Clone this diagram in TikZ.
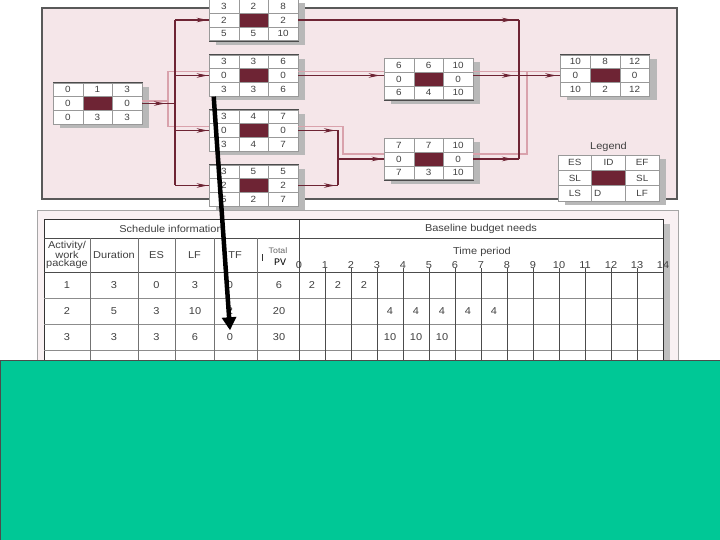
\documentclass[tikz,border=0pt]{standalone}
\usepackage{fontspec}
\setmainfont{Liberation Sans}[FakeStretch=1.1]
\setmonofont{Liberation Mono}
\usetikzlibrary{positioning,matrix,shadows,arrows.meta,decorations.markings}

\definecolor{pathred}{HTML}{6E2434}
\definecolor{critpink}{HTML}{D9A2AC}
\definecolor{panelpink}{HTML}{F5E6E9}
\definecolor{tablepink}{HTML}{F9F1F3}
\definecolor{coverteal}{HTML}{00C896}

\newcommand{\netfont}{\fontsize{9}{9}\selectfont}
\newcommand{\tabfont}{\fontsize{10}{8.5}\selectfont}

\begin{document}
\begin{tikzpicture}
    [
    x=1pt, y=-1pt,
    actbox/.style={matrix of nodes, nodes in empty cells, fill=white, draw=black!70,
      inner sep=0pt, column sep=-0.4pt, row sep=-0.4pt,
      general shadow={fill=black!28, shadow xshift=7pt, shadow yshift=-4pt},
      nodes={draw=black!40, line width=0.4pt, minimum width=29.6pt, minimum height=13.8pt,
        text height=6.4pt, text depth=0pt, inner sep=0pt, text=black!75, font=\netfont}},
    legendbox/.style={actbox, nodes={minimum width=33.7pt, minimum height=15.3pt}},
    slackcell/.style={fill=pathred},
    link/.style={draw=pathred, line width=1.5pt},
    bar/.style={draw=pathred, line width=2.6pt},
    critline/.style={draw=critpink, line width=1.5pt},
    tipat/.style={decoration={markings, mark=at position -#1 with
      {\arrow[pathred]{Stealth[length=11pt, width=4.5pt]}}}, postaction={decorate}},
    tabtext/.style={font=\tabfont, text=black!75, inner sep=1pt},
    ]

    \useasboundingbox (0,0) rectangle (720,540);

    % network panel
    \fill[panelpink, draw=black!65, line width=1.2pt] (42,8) rectangle (677,199);

    \matrix[actbox] (act1) at (97.5,103.5) {
      0 & 1 & 3 \\
      0 & |[slackcell]| & 0 \\
      0 & 3 & 3 \\
    };
    \matrix[actbox] (act2) at (253.5,20) {
      3 & 2 & 8 \\
      2 & |[slackcell]| & 2 \\
      5 & 5 & 10 \\
    };
    \matrix[actbox] (act3) at (253.5,75.5) {
      3 & 3 & 6 \\
      0 & |[slackcell]| & 0 \\
      3 & 3 & 6 \\
    };
    \matrix[actbox] (act4) at (253.5,130.5) {
      3 & 4 & 7 \\
      0 & |[slackcell]| & 0 \\
      3 & 4 & 7 \\
    };
    \matrix[actbox] (act5) at (253.5,185.5) {
      3 & 5 & 5 \\
      2 & |[slackcell]| & 2 \\
      5 & 2 & 7 \\
    };
    \matrix[actbox] (act6) at (428.5,79) {
      6 & 6 & 10 \\
      0 & |[slackcell]| & 0 \\
      6 & 4 & 10 \\
    };
    \matrix[actbox] (act7) at (428.5,159) {
      7 & 7 & 10 \\
      0 & |[slackcell]| & 0 \\
      7 & 3 & 10 \\
    };
    \matrix[actbox] (act8) at (605,75.5) {
      10 & 8 & 12 \\
      0 & |[slackcell]| & 0 \\
      10 & 2 & 12 \\
    };
    \matrix[legendbox] (legend) at (608.5,178) {
      ES & ID & EF \\
      SL & |[slackcell]| & SL \\
      LS & |[text width=29pt, align=left]| D & LF \\
    };
    \node[font=\tabfont, text=black!75, inner sep=1pt, above=1.5pt of legend] (legendtitle) {Legend};

    \coordinate (fork1a) at (175,20);
    \coordinate (fork1b) at (175,185.5);
    \coordinate (fork2a) at (338,130.5);
    \coordinate (fork2b) at (338,185.5);
    \coordinate (fork3a) at (519,20);
    \coordinate (fork3b) at (519,159);
    \coordinate (crit1a) at (168,71.5);
    \coordinate (crit1b) at (168,126.5);
    \coordinate (crit2a) at (343,126.5);
    \coordinate (crit2b) at (343,154);
    \coordinate (crit3a) at (527,71.5);
    \coordinate (crit3b) at (527,154);

    % critical path
    \draw[critline] ([yshift=2.5pt]act1.east) -| (crit1a);
    \draw[critline] (act3.west |- crit1a) -- (crit1a) -- (crit1b) -- (act4.west |- crit1b);
    \draw[critline] (act3.east |- crit1a) -- (act6.west |- crit1a);
    \draw[critline] (act4.east |- crit2a) -- (crit2a) -- (crit2b) -- (act7.west |- crit2b);
    \draw[critline] (act6.east |- crit3a) -- (act8.west |- crit3a);
    \draw[critline] (act7.east |- crit3b) -- (crit3b) -- (crit3a);

    % precedence links
    \draw[link, tipat=10pt] (act1.east) -- (act1.east -| fork1a);
    \draw[bar] (fork1a) -- (fork1b);
    \foreach \n in {2,...,5}
      \draw[link, tipat=1pt] (act\n.west -| fork1a) -- (act\n.west);
    \draw[link, tipat=4pt] (act3.east) -- (act3.east -| act6.west);
    \draw[link, tipat=3pt] (act4.east) -- (act4.east -| fork2a);
    \draw[link, tipat=3pt] (act5.east) -- (act5.east -| fork2a);
    \draw[bar] (fork2a) -- (fork2b);
    \draw[link, tipat=1pt] (act7.west -| fork2a) -- (act7.west);
    \draw[link, tipat=6pt] (act2.east) -- (act2.east -| fork3a);
    \draw[link, tipat=6pt] (act6.east |- act3.east) -- (act3.east -| fork3a);
    \draw[link, tipat=6pt] (act7.east) -- (act7.east -| fork3a);
    \draw[bar] (fork3a) -- (fork3b);
    \draw[link, tipat=4pt] (act8.west -| fork3a) -- (act8.west);

    % budget table
    \fill[tablepink, draw=black!35, line width=1pt] (37,211) rectangle (678,365);
    \fill[black!25] (663,224) rectangle (670,365);
    \fill[white, draw=black!80, line width=1pt] (44,220) rectangle (663,365);
    \draw[black!70, line width=0.8pt] (44,238) -- (663,238);
    \draw[black!70, line width=0.8pt] (44,272) -- (663,272);
    \foreach \y in {298,324,350}
      \draw[black!45] (44,\y) -- (663,\y);
    \foreach \x in {90,138,175,214,257}
      \draw[black!55] (\x,238) -- (\x,365);
    \draw[black!70] (299,220) -- (299,365);
    \foreach \t in {1,...,13}
      \draw[black!70] (299+26*\t,268) -- (299+26*\t,365);

    \node[tabtext] (schedhead) at (171,229) {Schedule information};
    \node[tabtext] (budgethead) at (481,229) {Baseline budget needs};
    \node[tabtext] (timehead) at (482,252) {Time period};
    \foreach \t in {0,...,14}
      \node[tabtext] (tp\t) at (299+26*\t,265) {\t};

    \node[tabtext, align=center] (colact) at (67,255) {Activity/\\work\\package};
    \node[tabtext] (coldur) at (114,255) {Duration};
    \node[tabtext] (coles) at (156.5,255) {ES};
    \node[tabtext] (collf) at (194.5,255) {LF};
    \node[tabtext] (coltf) at (235,255) {TF};
    \node[font=\fontsize{8}{8}\selectfont, text=black!60, inner sep=0pt] (coltot) at (278,251) {Total};
    \node[font=\ttfamily\fontsize{10}{10}\selectfont, inner sep=0pt] (colpv) at (280,262) {PV};
    \node[inner sep=0pt, text=black!80] (cursor) at (262,257) {\rule{0.8pt}{7pt}};

    \foreach \wp/\dur/\es/\lf/\tf/\pv/\ry in {1/3/0/3/0/6/285, 2/5/3/10/2/20/311, 3/3/3/6/0/30/337} {
      \node[tabtext] (wp\wp) at (67,\ry) {\wp};
      \node[tabtext] (dur\wp) at (114,\ry) {\dur};
      \node[tabtext] (es\wp) at (156.5,\ry) {\es};
      \node[tabtext] (lf\wp) at (195,\ry) {\lf};
      \node[tabtext] (tf\wp) at (230,\ry) {\tf};
      \node[tabtext] (pv\wp) at (279,\ry) {\pv};
    }
    \foreach \c in {0,1,2}
      \node[tabtext] (need1-\c) at (312+26*\c,285) {2};
    \foreach \c in {3,...,7}
      \node[tabtext] (need2-\c) at (312+26*\c,311) {4};
    \foreach \c in {3,4,5}
      \node[tabtext] (need3-\c) at (312+26*\c,337) {10};

    % pointer arrow
    \draw[line width=4.5pt, -{Triangle[length=13pt, width=14pt]}]
      ([xshift=5pt]act3.south west) -- ([yshift=2pt]tf3.north);

    % cover
    \draw[fill=coverteal, draw=black!70, line width=0.8pt] (0,360) rectangle (721,541);
\end{tikzpicture}
\end{document}
